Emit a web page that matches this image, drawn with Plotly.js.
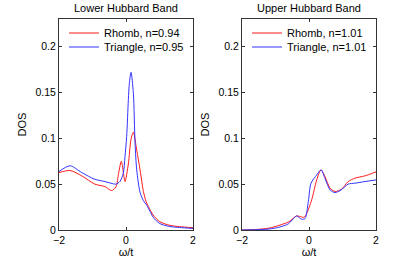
<!DOCTYPE html>
<html>
<head>
<meta charset="utf-8">
<script src="https://cdn.plot.ly/plotly-3.0.1.min.js"></script>
<style>
html,body{margin:0;padding:0;background:#fff;}
#chart{width:415px;height:261px;}
</style>
</head>
<body>
<div id="chart"></div>
<script>
// Lower Hubbard Band
var lowerRhombX = [-2, -1.67, -1.32, -0.93, -0.63, -0.43, -0.3, -0.22, -0.14, -0.08, -0.03, 0.07, 0.15, 0.22, 0.32, 0.42, 0.52, 0.6, 0.67, 0.81, 1.01, 1.31, 1.6, 2.0];
var lowerRhombY = [0.0626, 0.0648, 0.059, 0.050, 0.0473, 0.043, 0.047, 0.062, 0.0750, 0.063, 0.0528, 0.072, 0.099, 0.1065, 0.087, 0.0655, 0.042, 0.031, 0.0255, 0.0164, 0.009, 0.0051, 0.0037, 0.0025];
var lowerTriX = [-2, -1.67, -1.32, -0.93, -0.63, -0.45, -0.3, -0.18, -0.08, -0.03, 0.02, 0.07, 0.1, 0.15, 0.22, 0.27, 0.32, 0.42, 0.52, 0.62, 0.67, 0.81, 1.01, 1.31, 1.6, 2.0];
var lowerTriY = [0.0637, 0.070, 0.0626, 0.0553, 0.0528, 0.051, 0.050, 0.053, 0.062, 0.080, 0.102, 0.142, 0.160, 0.1718, 0.149, 0.0947, 0.0655, 0.041, 0.032, 0.027, 0.0237, 0.014, 0.007, 0.0038, 0.0027, 0.0017];
// Upper Hubbard Band
var upperRhombX = [-2, -1.6, -1.2, -0.9, -0.6, -0.37, -0.25, -0.15, -0.07, 0.08, 0.23, 0.36, 0.48, 0.63, 0.78, 0.97, 1.17, 1.37, 1.67, 2.0];
var upperRhombY = [0, 0.0005, 0.002, 0.005, 0.009, 0.0153, 0.0145, 0.0139, 0.018, 0.0328, 0.0546, 0.0655, 0.058, 0.0455, 0.042, 0.0444, 0.0528, 0.0565, 0.059, 0.0633];
var upperTriX = [-2, -1.6, -1.2, -0.9, -0.62, -0.5, -0.37, -0.22, -0.12, -0.02, 0.06, 0.23, 0.36, 0.48, 0.63, 0.78, 0.97, 1.17, 1.37, 1.67, 2.0];
var upperTriY = [0, 0.0003, 0.001, 0.003, 0.0066, 0.011, 0.0153, 0.0117, 0.0125, 0.031, 0.051, 0.060, 0.0655, 0.056, 0.0437, 0.0408, 0.044, 0.050, 0.051, 0.0528, 0.0546];

var names = ["Rhomb, n=0.94", "Triangle, n=0.95", "Rhomb, n=1.01", "Triangle, n=1.01"];
var panelTitles = ["Lower Hubbard Band", "Upper Hubbard Band"];
var xTicks = [-2, 0, 2];
var xTickText = ["\u22122", "0", "2"];
var yTicks = [0, 0.05, 0.1, 0.15, 0.2];
var yTickText = ["0", "0.05", "0.1", "0.15", "0.2"];
var xLabel = "\u03c9/t";
var yLabel = "DOS";

var FONT = "Liberation Sans, Arial, Helvetica, sans-serif";
var RED = "#ff1a1a", BLUE = "#3333ff";

var traces = [
  {x: lowerRhombX, y: lowerRhombY, name: names[0], xaxis: "x", yaxis: "y", legend: "legend",
   mode: "lines", line: {color: RED, width: 1, shape: "spline", smoothing: 0.8}},
  {x: lowerTriX, y: lowerTriY, name: names[1], xaxis: "x", yaxis: "y", legend: "legend2",
   mode: "lines", line: {color: BLUE, width: 1, shape: "spline", smoothing: 0.8}},
  {x: upperRhombX, y: upperRhombY, name: names[2], xaxis: "x2", yaxis: "y2", legend: "legend3",
   mode: "lines", line: {color: RED, width: 1, shape: "spline", smoothing: 0.8}},
  {x: upperTriX, y: upperTriY, name: names[3], xaxis: "x2", yaxis: "y2", legend: "legend4",
   mode: "lines", line: {color: BLUE, width: 1, shape: "spline", smoothing: 0.8}}
];

function xax(dom) {
  return {domain: dom, range: [-2, 2], tickvals: xTicks, ticktext: xTickText,
    ticks: "inside", ticklen: 3, tickcolor: "#333", mirror: "ticks", showline: true,
    linecolor: "#333", linewidth: 1, showgrid: false, zeroline: false, automargin: false,
    tickfont: {family: FONT, size: 10.5, color: "#000"},
    title: {text: xLabel, font: {family: FONT, size: 11, color: "#000"}, standoff: 2}};
}
function yax(dom, anchor) {
  return {domain: dom, range: [0, 0.23], tickvals: yTicks, ticktext: yTickText, anchor: anchor,
    ticks: "inside", ticklen: 3, tickcolor: "#333", mirror: "ticks", showline: true,
    linecolor: "#333", linewidth: 1, showgrid: false, zeroline: false, automargin: false,
    tickfont: {family: FONT, size: 10.5, color: "#000"},
    title: {text: yLabel, font: {family: FONT, size: 11, color: "#000"}, standoff: 6}};
}
var yDom = [1 - 230 / 261, 1 - 19 / 261];
var x1Dom = [59 / 415, 193 / 415];
var x2Dom = [242 / 415, 376 / 415];

function leg(xpx, ypx) {
  return {x: xpx / 415, y: 1 - ypx / 261, xanchor: "left", yanchor: "middle",
    bgcolor: "rgba(0,0,0,0)", borderwidth: 0, font: {family: FONT, size: 11, color: "#000"}};
}

var layout = {
  width: 415, height: 261,
  margin: {l: 0, r: 0, t: 0, b: 0},
  paper_bgcolor: "#fff", plot_bgcolor: "#fff",
  showlegend: true,
  xaxis: xax(x1Dom), yaxis: yax(yDom, "x"),
  xaxis2: xax(x2Dom), yaxis2: yax(yDom, "x2"),
  legend: leg(64, 33), legend2: leg(64, 47),
  legend3: leg(247, 33), legend4: leg(247, 47),
  annotations: [
    {text: panelTitles[0], xref: "paper", yref: "paper", x: (x1Dom[0] + x1Dom[1]) / 2, y: 1 - 8 / 261,
     xanchor: "center", yanchor: "middle", showarrow: false, font: {family: FONT, size: 11, color: "#000"}},
    {text: panelTitles[1], xref: "paper", yref: "paper", x: (x2Dom[0] + x2Dom[1]) / 2, y: 1 - 8 / 261,
     xanchor: "center", yanchor: "middle", showarrow: false, font: {family: FONT, size: 11, color: "#000"}}
  ]
};

Plotly.newPlot("chart", traces, layout, {staticPlot: true, displayModeBar: false});
</script>
</body>
</html>
